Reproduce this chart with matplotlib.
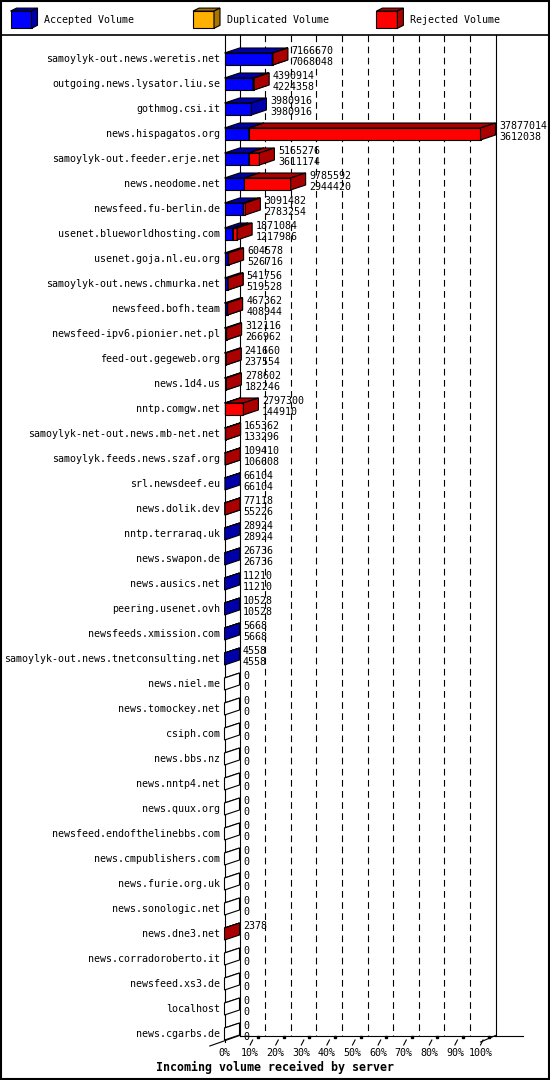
"""Incoming volume per server, drawn as GD-style 3D stacked bars."""

import matplotlib

matplotlib.use("Agg")
import matplotlib.pyplot as plt
from matplotlib.patches import Polygon, Rectangle

servers = [
    "samoylyk-out.news.weretis.net",
    "outgoing.news.lysator.liu.se",
    "gothmog.csi.it",
    "news.hispagatos.org",
    "samoylyk-out.feeder.erje.net",
    "news.neodome.net",
    "newsfeed.fu-berlin.de",
    "usenet.blueworldhosting.com",
    "usenet.goja.nl.eu.org",
    "samoylyk-out.news.chmurka.net",
    "newsfeed.bofh.team",
    "newsfeed-ipv6.pionier.net.pl",
    "feed-out.gegeweb.org",
    "news.1d4.us",
    "nntp.comgw.net",
    "samoylyk-net-out.news.mb-net.net",
    "samoylyk.feeds.news.szaf.org",
    "srl.newsdeef.eu",
    "news.dolik.dev",
    "nntp.terraraq.uk",
    "news.swapon.de",
    "news.ausics.net",
    "peering.usenet.ovh",
    "newsfeeds.xmission.com",
    "samoylyk-out.news.tnetconsulting.net",
    "news.niel.me",
    "news.tomockey.net",
    "csiph.com",
    "news.bbs.nz",
    "news.nntp4.net",
    "news.quux.org",
    "newsfeed.endofthelinebbs.com",
    "news.cmpublishers.com",
    "news.furie.org.uk",
    "news.sonologic.net",
    "news.dne3.net",
    "news.corradoroberto.it",
    "newsfeed.xs3.de",
    "localhost",
    "news.cgarbs.de",
]

total_volume = [
    7166670, 4390914, 3980916, 37877014, 5165276, 9785592, 3091482, 1871084,
    604578, 541756, 467362, 312116, 241660, 278602, 2797300, 165362,
    109410, 66104, 77118, 28924, 26736, 11210, 10528, 5668,
    4558, 0, 0, 0, 0, 0, 0, 0,
    0, 0, 0, 2378, 0, 0, 0, 0,
]

accepted_volume = [
    7068048, 4224358, 3980916, 3612038, 3611174, 2944420, 2783254, 1217986,
    526716, 519528, 408944, 266962, 237554, 182246, 144910, 133296,
    106608, 66104, 55226, 28924, 26736, 11210, 10528, 5668,
    4558, 0, 0, 0, 0, 0, 0, 0,
    0, 0, 0, 0, 0, 0, 0, 0,
]

duplicated_volume = [0] * len(servers)

legend_labels = ["Accepted Volume", "Duplicated Volume", "Rejected Volume"]
face_colors = ["#0000ff", "#ffb000", "#ff0000"]
dark_colors = ["#0000aa", "#aa7400", "#aa0000"]

tick_values = [0, 10, 20, 30, 40, 50, 60, 70, 80, 90, 100]
tick_labels = ["0%", "10%", "20%", "30%", "40%", "50%", "60%", "70%", "80%", "90%", "100%"]

title = "Incoming volume received by server"

# pixel layout (image is 550x1080, y measured from the top)
W, H = 550, 1080
X0 = 224.5          # front plane at 0%
PX_PER_PCT = 2.56
ROW0 = 59           # centre of first row
ROW_STEP = 25
DEPTH_X = 15
DEPTH_Y = 5
HALF_H = 6
TOP = 35
FLOOR_FRONT = 1042
FLOOR_BACK = 1035.5

FONT = "DejaVu Sans Mono"
SMALL = 7.2


def xd(px):
    """pixel x -> data x (percent on the front plane)"""
    return (px - X0) / PX_PER_PCT


def yd(py):
    """pixel y -> data y (row index)"""
    return (py - ROW0) / ROW_STEP


def cube(ax, x0, x1, yc, half, ddx, ddy, face, dark, z=5):
    top = yc - half
    bot = yc + half
    kw = dict(edgecolor="black", linewidth=0.8, joinstyle="miter", zorder=z)
    ax.add_patch(Polygon([(x0, top), (x1, top), (x1, bot), (x0, bot)], facecolor=face, **kw))
    ax.add_patch(Polygon([(x0, top), (x1, top), (x1 + ddx, top - ddy), (x0 + ddx, top - ddy)],
                         facecolor=dark, **kw))
    ax.add_patch(Polygon([(x1, top), (x1 + ddx, top - ddy), (x1 + ddx, bot - ddy), (x1, bot)],
                         facecolor=dark, **kw))


def main() -> None:
    fig = plt.figure(figsize=(W / 100, H / 100), dpi=100)
    ax = fig.add_axes([0, 0, 1, 1])
    ax.set_xlim(xd(0), xd(W))
    ax.set_ylim(yd(H), yd(0))
    ax.axis("off")

    ddx = DEPTH_X / PX_PER_PCT
    ddy = DEPTH_Y / ROW_STEP
    half = HALF_H / ROW_STEP
    vmax = max(total_volume)

    # outer frame and legend separator
    ax.add_patch(Rectangle((xd(0.75), yd(0.75)), (W - 1.5) / PX_PER_PCT, (H - 1.5) / ROW_STEP,
                           fill=False, edgecolor="black", linewidth=1.5, zorder=10))
    ax.plot([xd(0), xd(W)], [yd(TOP), yd(TOP)], color="black", lw=1.2, zorder=10)

    # legend
    leg_x = [10.5, 193, 376.4]
    for lx, label, fc, dc in zip(leg_x, legend_labels, face_colors, dark_colors):
        cube(ax, xd(lx), xd(lx + 21), yd(19.7), 8.6 / ROW_STEP, 6 / PX_PER_PCT, 3 / ROW_STEP, fc, dc)
        ax.text(xd(lx + 34), yd(20), label, fontsize=SMALL, family=FONT, ha="left", va="center")

    # walls and floor
    back0 = xd(X0 + DEPTH_X)
    ax.plot([0, 0], [yd(TOP), yd(FLOOR_FRONT)], color="black", lw=0.8, zorder=2)
    ax.plot([back0, back0], [yd(TOP), yd(FLOOR_BACK)], color="black", lw=0.8, zorder=2)
    ax.plot([100 + ddx, 100 + ddx], [yd(TOP), yd(FLOOR_BACK)], color="black", lw=0.8, zorder=2)
    ax.plot([back0, xd(522.7)], [yd(FLOOR_BACK), yd(FLOOR_BACK)], color="black", lw=0.8, zorder=2)
    ax.plot([xd(209.8), back0], [yd(1046), yd(FLOOR_BACK)], color="black", lw=0.8, zorder=2)
    ax.plot([100, 100 + ddx], [yd(FLOOR_FRONT), yd(FLOOR_BACK)], color="black", lw=0.8, zorder=2)

    for t in tick_values[1:-1]:
        ax.plot([t + ddx, t + ddx], [yd(TOP), yd(FLOOR_BACK)], color="black", lw=0.8,
                linestyle=(0, (6, 4)), zorder=1)
    for t in tick_values[1:]:
        ax.plot([t, t + 1.0], [yd(1045), yd(1040)], color="black", lw=0.8, zorder=2)
        ax.plot([t + 3.2], [yd(1036.6)], marker="s", markersize=2, color="black", zorder=2)
    for t, lab in zip(tick_values, tick_labels):
        ax.text(t, yd(1053), lab, fontsize=SMALL, family=FONT, ha="center", va="center")

    ax.text(xd(274.5), yd(1067), title, fontsize=8.4, family=FONT, fontweight="bold",
            ha="center", va="center")

    # bars
    for r, name in enumerate(servers):
        tot = total_volume[r]
        acc = accepted_volume[r]
        dup = duplicated_volume[r]
        segments = [acc, dup, tot - acc - dup]
        start = 0.0
        drawn = False
        for seg, fc, dc in zip(segments, face_colors, dark_colors):
            if seg <= 0:
                continue
            width = seg / vmax * 100
            cube(ax, start, start + width, r, half, ddx, ddy, fc, dc)
            start += width
            drawn = True
        if not drawn:
            cube(ax, 0, 0, r, half, ddx, ddy, "white", "white")
        end = tot / vmax * 100 + ddx + 3.5 / PX_PER_PCT
        ax.text(end, r - 8 / ROW_STEP, str(tot), fontsize=SMALL, family=FONT,
                ha="left", va="center", zorder=6)
        ax.text(end, r + 3 / ROW_STEP, str(acc), fontsize=SMALL, family=FONT,
                ha="left", va="center", zorder=6)
        ax.text(xd(220), r, name, fontsize=SMALL, family=FONT, ha="right", va="center")

    fig.savefig("out.png", dpi=100, facecolor="white")


if __name__ == "__main__":
    main()
